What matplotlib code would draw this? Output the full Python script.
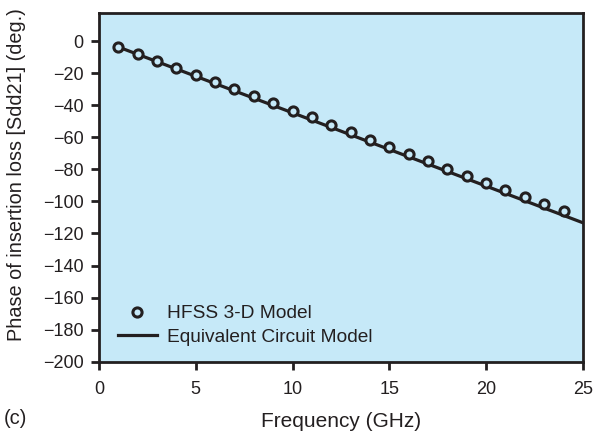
import matplotlib
matplotlib.use("Agg")
import matplotlib.pyplot as plt

# frequency points (GHz) of the HFSS simulation
freq_hfss = [1, 2, 3, 4, 5, 6, 7, 8, 9, 10, 11, 12,
             13, 14, 15, 16, 17, 18, 19, 20, 21, 22, 23, 24]
# phase of Sdd21 (deg.) from HFSS 3-D model
phase_hfss = [-3.5, -7.7, -12.5, -16.6, -21.0, -25.4, -29.8, -34.4,
              -38.8, -43.3, -47.5, -52.0, -56.8, -61.4, -66.0, -70.4,
              -75.0, -79.6, -84.4, -88.5, -92.7, -97.3, -101.6, -106.2]

# equivalent circuit model curve
freq_circuit = [1, 5, 10, 15, 20, 25]
phase_circuit = [-3.5, -21.8, -44.6, -67.5, -90.4, -113.3]

xticks = [0, 5, 10, 15, 20, 25]
yticks = [0, -20, -40, -60, -80, -100, -120, -140, -160, -180, -200]

ink = "#231f20"
bg = "#c6e9f8"

plt.rcParams.update({
    "font.family": ["Liberation Sans", "DejaVu Sans"],
    "font.size": 13,
    "text.color": ink,
    "axes.labelcolor": ink,
    "xtick.color": ink,
    "ytick.color": ink,
})

fig = plt.figure(figsize=(5.96, 4.33), dpi=100)
ax = fig.add_axes([0.166, 0.165, 0.812, 0.806])
ax.set_facecolor(bg)

ax.plot(freq_circuit, phase_circuit, color=ink, lw=2.3,
        label="Equivalent Circuit Model", zorder=2)
ax.plot(freq_hfss, phase_hfss, ls="none", marker="o", ms=6.6,
        mfc=bg, mec=ink, mew=2.2, label="HFSS 3-D Model", zorder=3)

ax.set_xlim(0, 25)
ax.set_ylim(-200, 18)
ax.set_xticks(xticks)
ax.set_yticks(yticks)
ax.set_yticklabels([str(t).replace("-", "\u2212") for t in yticks])

for s in ax.spines.values():
    s.set_linewidth(2.0)
    s.set_color(ink)
ax.tick_params(direction="out", length=6, width=2.0, labelsize=13)
ax.tick_params(axis="x", pad=8)
ax.tick_params(axis="y", pad=5)

ax.set_xlabel("Frequency (GHz)", fontsize=15, va="top")
ax.xaxis.set_label_coords(0.5, -0.145)
ax.set_ylabel("Phase of insertion loss [Sdd21] (deg.)", fontsize=14.3)
ax.yaxis.set_label_coords(-0.150, 0.535)

handles, labels = ax.get_legend_handles_labels()
ax.legend(handles[::-1], labels[::-1], loc="lower left", frameon=False,
          fontsize=13.8, handlelength=2.0, handletextpad=0.55,
          borderaxespad=0.0, labelspacing=0.3, bbox_to_anchor=(0.024, 0.024))

fig.text(0.006, 0.034, "(c)", fontsize=14.5, va="center")

fig.savefig("out.png", dpi=100)
